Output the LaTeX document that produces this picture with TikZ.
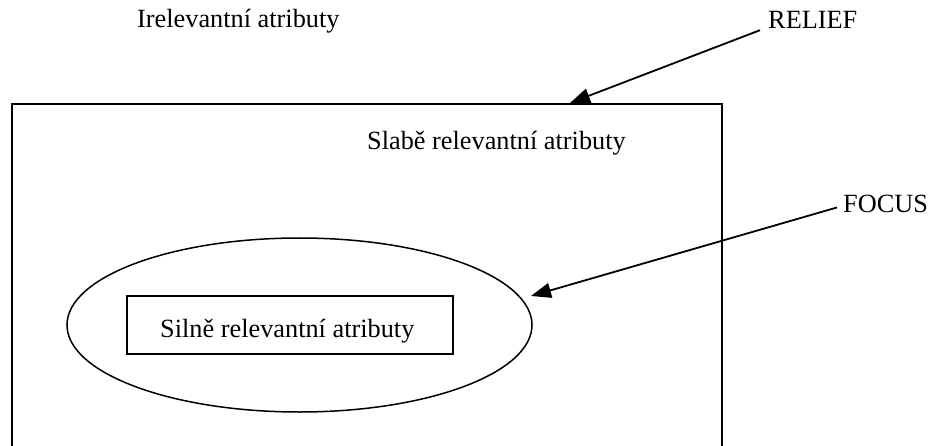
\documentclass[tikz,border=0pt]{standalone}
\usepackage{fontspec}
\setmainfont{Liberation Serif}
\usetikzlibrary{arrows.meta,shapes.geometric}
\begin{document}
\begin{tikzpicture}[x=1pt,y=-1pt,
  lbl/.style={inner sep=0pt,anchor=base west,font=\fontsize{26.3}{30}\selectfont},
  frame/.style={line width=1.5pt},
  arr/.style={line width=1.8pt,-{Triangle[length=20pt,width=15pt]}}]
\useasboundingbox (0,0) rectangle (931,446);
% outer (cut-off) rectangle
\coordinate (bl) at (12,447);
\coordinate (tl) at (12,104);
\coordinate (tr) at (722,104);
\coordinate (br) at (722,447);
\draw[frame] (bl) -- (tl) -- (tr) -- (br);
% ellipse
\node[draw,frame,ellipse,inner sep=0pt,minimum width=465,minimum height=174] (ell) at (299.5,325) {};
% inner box
\node[draw,frame,rectangle,inner sep=0pt,minimum width=326,minimum height=58] (box) at (290,325) {};
% texts
\node[lbl] (irel) at (137,28) {Irelevantní atributy};
\node[lbl] (relief) at (768,29) {RELIEF};
\node[lbl] (slabe) at (367,150) {Slabě relevantní atributy};
\node[lbl] (focus) at (843,213) {FOCUS};
\node[lbl] (silne) at (160,337) {Silně relevantní atributy};
% arrows
\coordinate (rtip) at (570,103);
\coordinate (ftip) at (531,296);
\draw[arr] ([xshift=-8pt,yshift=-1pt]relief.south west) -- (rtip);
\draw[arr] ([xshift=-6pt,yshift=6pt]focus.south west) -- (ftip);
\end{tikzpicture}
\end{document}
